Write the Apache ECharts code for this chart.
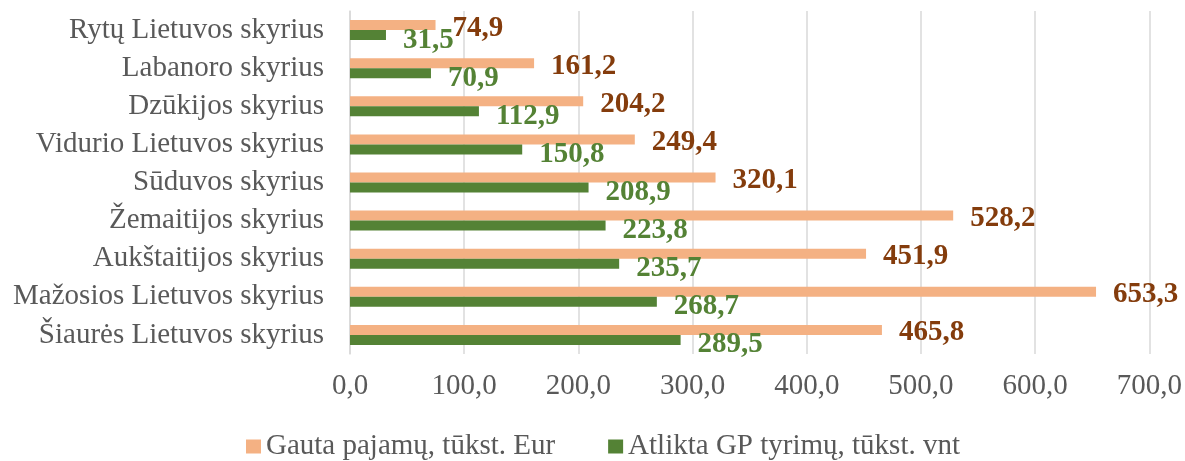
<!DOCTYPE html>
<html>
<head>
<meta charset="utf-8">
<script src="https://cdn.jsdelivr.net/npm/echarts@6/dist/echarts.min.js"></script>
<style>
  html, body { margin: 0; padding: 0; background: #fff; }
  #chart { width: 1185px; height: 461px; }
</style>
</head>
<body>
<div id="chart"></div>
<script>
  // skyriai, iš viršaus į apačią
  const categories = [
    'Rytų Lietuvos skyrius',
    'Labanoro skyrius',
    'Dzūkijos skyrius',
    'Vidurio Lietuvos skyrius',
    'Sūduvos skyrius',
    'Žemaitijos skyrius',
    'Aukštaitijos skyrius',
    'Mažosios Lietuvos skyrius',
    'Šiaurės Lietuvos skyrius'
  ];
  const pajamos = [74.9, 161.2, 204.2, 249.4, 320.1, 528.2, 451.9, 653.3, 465.8];
  const tyrimai = [31.5, 70.9, 112.9, 150.8, 208.9, 223.8, 235.7, 268.7, 289.5];
  const seriesNames = ['Gauta pajamų, tūkst. Eur', 'Atlikta GP tyrimų, tūkst. vnt'];

  const font = 'Liberation Serif, Times New Roman, serif';
  const fmt = v => v.toFixed(1).replace('.', ',');

  const chart = echarts.init(document.getElementById('chart'));
  chart.setOption({
    animation: false,
    textStyle: { fontFamily: font },
    grid: { left: 350, right: 35, top: 11, bottom: 107, containLabel: false },
    legend: {
      top: 427,
      left: 241,
      itemWidth: 15,
      itemHeight: 14,
      itemGap: 53,
      icon: 'rect',
      data: seriesNames,
      textStyle: { fontFamily: font, fontSize: 29, color: '#595959' }
    },
    xAxis: {
      type: 'value',
      min: 0,
      max: 700,
      interval: 100,
      axisLine: { show: false },
      axisTick: { show: false },
      splitLine: { lineStyle: { color: '#d9d9d9', width: 1.5 } },
      axisLabel: {
        margin: 18,
        fontFamily: font,
        fontSize: 29,
        color: '#595959',
        formatter: v => fmt(v)
      }
    },
    yAxis: {
      type: 'category',
      inverse: true,
      data: categories,
      axisLine: { show: true, lineStyle: { color: '#d9d9d9', width: 1.5 } },
      axisTick: { show: false },
      axisLabel: { margin: 26, fontFamily: font, fontSize: 29, color: '#595959' }
    },
    series: [
      {
        name: seriesNames[0],
        type: 'bar',
        data: pajamos,
        barWidth: 10,
        barGap: '0%',
        itemStyle: { color: '#F4B183' },
        label: {
          show: true,
          position: 'right',
          distance: 17,
          offset: [0, 3],
          fontFamily: font,
          fontSize: 29,
          fontWeight: 'bold',
          color: '#843C0C',
          formatter: p => fmt(p.value)
        }
      },
      {
        name: seriesNames[1],
        type: 'bar',
        data: tyrimai,
        barWidth: 10,
        barGap: '0%',
        itemStyle: { color: '#548235' },
        label: {
          show: true,
          position: 'right',
          distance: 17,
          offset: [0, 5],
          fontFamily: font,
          fontSize: 29,
          fontWeight: 'bold',
          color: '#548235',
          formatter: p => fmt(p.value)
        }
      }
    ]
  });
  window.onresize = function () {
    chart.resize();
  };
</script>
</body>
</html>
